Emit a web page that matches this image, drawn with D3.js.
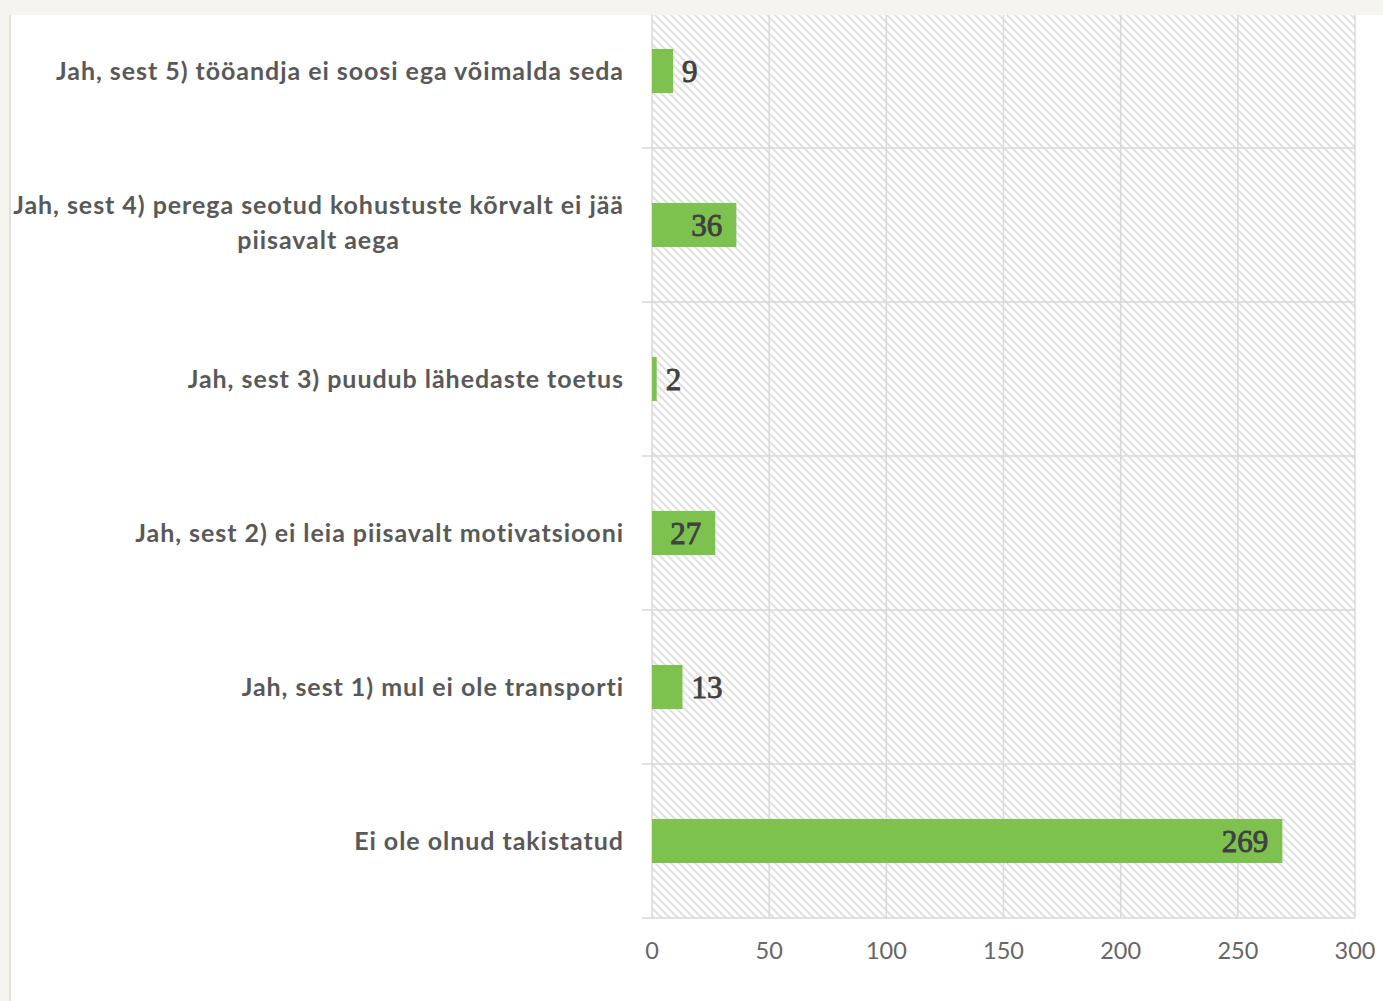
<!DOCTYPE html>
<html><head><meta charset="utf-8">
<script src="https://cdnjs.cloudflare.com/ajax/libs/d3/7.8.5/d3.min.js"></script>
<style>html,body{margin:0;padding:0;background:#f5f4ef;}svg{display:block;}</style>
</head><body>
<svg id="chart" width="1383" height="1001"></svg>
<script>
const categories = [
  ["Jah, sest 5) tööandja ei soosi ega võimalda seda"],
  ["Jah, sest 4) perega seotud kohustuste kõrvalt ei jää", "piisavalt aega"],
  ["Jah, sest 3) puudub lähedaste toetus"],
  ["Jah, sest 2) ei leia piisavalt motivatsiooni"],
  ["Jah, sest 1) mul ei ole transporti"],
  ["Ei ole olnud takistatud"]
];
const values = [9, 36, 2, 27, 13, 269];
const labelInside = [false, true, false, true, false, true];
const xTicks = [0, 50, 100, 150, 200, 250, 300];

(function () {
const svg = d3.select("#chart");
const W = 1383, H = 1001;
const pLeft = 652, pRight = 1355, pBottom = 918, band = 154;
const pTop = pBottom - band * categories.length;

// white panel
svg.append("rect").attr("x", 10).attr("y", 0).attr("width", W - 10).attr("height", H).attr("fill", "#ffffff");
svg.append("line").attr("x1", 10).attr("x2", 10).attr("y1", 0).attr("y2", H).attr("stroke", "#e0e0dc").attr("stroke-width", 2);

const defs = svg.append("defs");
const pat = defs.append("pattern").attr("id", "hatch").attr("patternUnits", "userSpaceOnUse")
  .attr("width", 8).attr("height", 8);
pat.append("rect").attr("width", 8).attr("height", 8).attr("fill", "#ffffff");
pat.append("path").attr("d", "M-2,-2 L10,10 M-2,6 L2,10 M6,-2 L10,2")
  .attr("stroke", "#e0e0e0").attr("stroke-width", 2);

const x = d3.scaleLinear().domain([0, 300]).range([pLeft, pRight]);
const y = d3.scaleBand().domain(d3.range(categories.length)).range([pTop, pBottom]).paddingInner(0).paddingOuter(0);

svg.append("rect").attr("x", pLeft).attr("y", pTop).attr("width", pRight - pLeft).attr("height", pBottom - pTop)
  .attr("fill", "url(#hatch)");

// vertical gridlines
svg.append("g").selectAll("line").data(xTicks).join("line")
  .attr("x1", d => x(d)).attr("x2", d => x(d)).attr("y1", pTop).attr("y2", pBottom)
  .attr("stroke", "#d9d9d9").attr("stroke-width", 1.5);

// horizontal separators
const seps = d3.range(categories.length + 1).map(i => pTop + i * y.step());
svg.append("g").selectAll("line").data(seps).join("line")
  .attr("x1", pLeft - 10).attr("x2", pRight).attr("y1", d => d).attr("y2", d => d)
  .attr("stroke", "#d9d9d9").attr("stroke-width", 1.5);

// bars
const barH = y.bandwidth() * 0.286;
svg.append("g").selectAll("rect").data(values).join("rect")
  .attr("x", x(0)).attr("width", d => x(d) - x(0))
  .attr("y", (d, i) => y(i) + y.bandwidth() / 2 - barH / 2).attr("height", barH)
  .attr("fill", "#7dc24e");

// value labels
svg.append("g").selectAll("text").data(values).join("text")
  .attr("x", (d, i) => labelInside[i] ? x(d) - 14 : x(d) + 9)
  .attr("y", (d, i) => y(i) + y.bandwidth() / 2)
  .attr("dy", "0.35em")
  .attr("text-anchor", (d, i) => labelInside[i] ? "end" : "start")
  .attr("font-family", "'Liberation Serif', serif").attr("font-size", 31)
  .attr("fill", "#404040").attr("stroke", "#404040").attr("stroke-width", 0.9)
  .text(d => d);

// category labels
const catG = svg.append("g");
categories.forEach((lines, i) => {
  const cy = y(i) + y.bandwidth() / 2;
  const lh = 35;
  const t = catG.append("text")
    .attr("font-family", "Lato, 'Open Sans', sans-serif").attr("font-weight", 700)
    .attr("font-size", 25).attr("letter-spacing", 0.95).attr("fill", "#595959");
  if (lines.length === 1) {
    t.append("tspan").attr("x", 624).attr("y", cy).attr("dy", "0.35em").attr("text-anchor", "end").text(lines[0]);
  } else {
    const first = t.append("tspan").attr("x", 624).attr("y", cy - lh / 2 - 2).attr("dy", "0.35em").attr("text-anchor", "end").text(lines[0]);
    const w = first.node().getComputedTextLength();
    const c = 624 - w / 2;
    t.append("tspan").attr("x", c).attr("y", cy + lh / 2 - 2).attr("dy", "0.35em").attr("text-anchor", "middle").text(lines[1]);
  }
});

// x axis labels
svg.append("g").selectAll("text").data(xTicks).join("text")
  .attr("x", d => x(d)).attr("y", 951).attr("dy", "0.35em").attr("text-anchor", "middle")
  .attr("font-family", "Lato, 'Open Sans', sans-serif").attr("font-size", 23.5).attr("fill", "#666666")
  .text(d => d);

// top band
svg.append("rect").attr("x", 0).attr("y", 0).attr("width", W).attr("height", 15).attr("fill", "#f5f4ef");
})();
</script>
</body></html>
